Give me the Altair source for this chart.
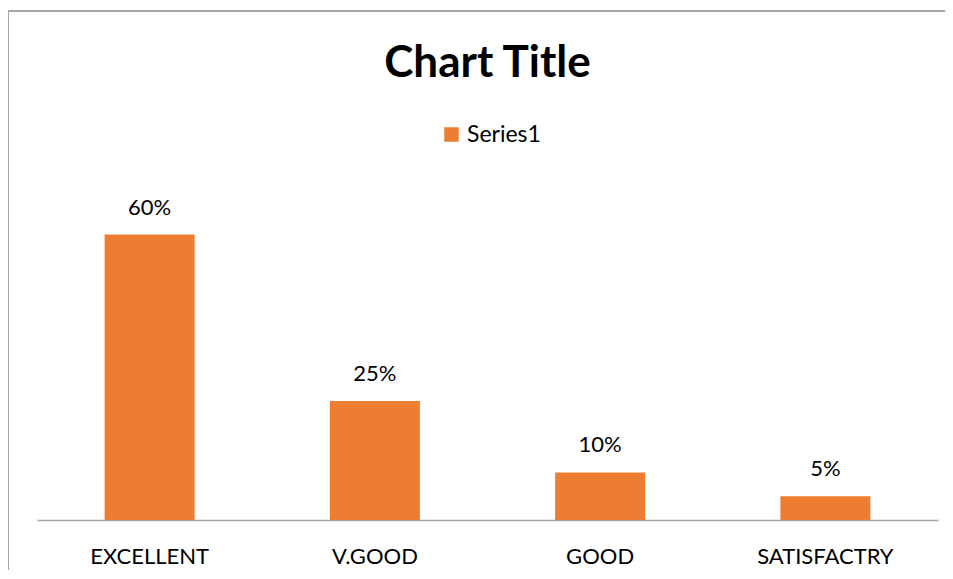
import altair as alt
import pandas as pd

categories = ["EXCELLENT", "V.GOOD", "GOOD", "SATISFACTRY"]
values = [0.60, 0.25, 0.10, 0.05]
labels = ["60%", "25%", "10%", "5%"]
series = ["Series1"] * 4
title_text = ["Chart Title"]

df = pd.DataFrame({"cat": categories, "val": values, "lab": labels, "series": series})
tdf = pd.DataFrame({"t": title_text})

FONT = "Lato"
ORANGE = "#ED7D31"
BORDER = "#a6a6a6"

x = alt.X("cat:N", sort=categories, title=None,
          scale=alt.Scale(paddingInner=0.6, paddingOuter=0.3),
          axis=alt.Axis(labelAngle=0, labelFont=FONT, labelFontSize=22, labelColor="#000000",
                        labelPadding=26, ticks=False, domainColor=BORDER, domainWidth=1.3))
y = alt.Y("val:Q", scale=alt.Scale(domain=[0, 0.7]), axis=None)

bars = alt.Chart(df).mark_bar(size=90).encode(
    x=x, y=y,
    color=alt.Color("series:N", scale=alt.Scale(range=[ORANGE]),
                    legend=alt.Legend(title=None, orient="none", legendX=403, legendY=-64,
                                      direction="horizontal", symbolType="square", symbolSize=210,
                                      labelFont=FONT, labelFontSize=23, labelColor="#000000",
                                      symbolStrokeWidth=0, labelOffset=4))
)

text = alt.Chart(df).mark_text(font=FONT, fontSize=22, baseline="alphabetic", dy=-20, color="#000000").encode(
    x=alt.X("cat:N", sort=categories), y="val:Q", text="lab:N"
)

title = alt.Chart(tdf).mark_text(font=FONT, fontSize=44, fontWeight="bold", color="#000000",
                                 baseline="alphabetic", align="center").encode(
    x=alt.value(450.5), y=alt.value(-110), text="t:N"
)

frame_top = alt.Chart(tdf).mark_rule(stroke=BORDER, strokeWidth=2).encode(
    x=alt.value(-29), x2=alt.value(930), y=alt.value(-176)
)
frame_left = alt.Chart(tdf).mark_rule(stroke=BORDER, strokeWidth=2).encode(
    x=alt.value(-29), y=alt.value(-176), y2=alt.value(420)
)

chart = alt.layer(frame_top, frame_left, bars, text, title).properties(
    width=901, height=333,
    padding={"left": 29, "top": 179, "right": 7, "bottom": 50},
    autosize=alt.AutoSizeParams(type="none"),
).configure(background="white").configure_view(stroke=None)

chart.save("out.html", embed_options={"renderer": "svg", "actions": False})
